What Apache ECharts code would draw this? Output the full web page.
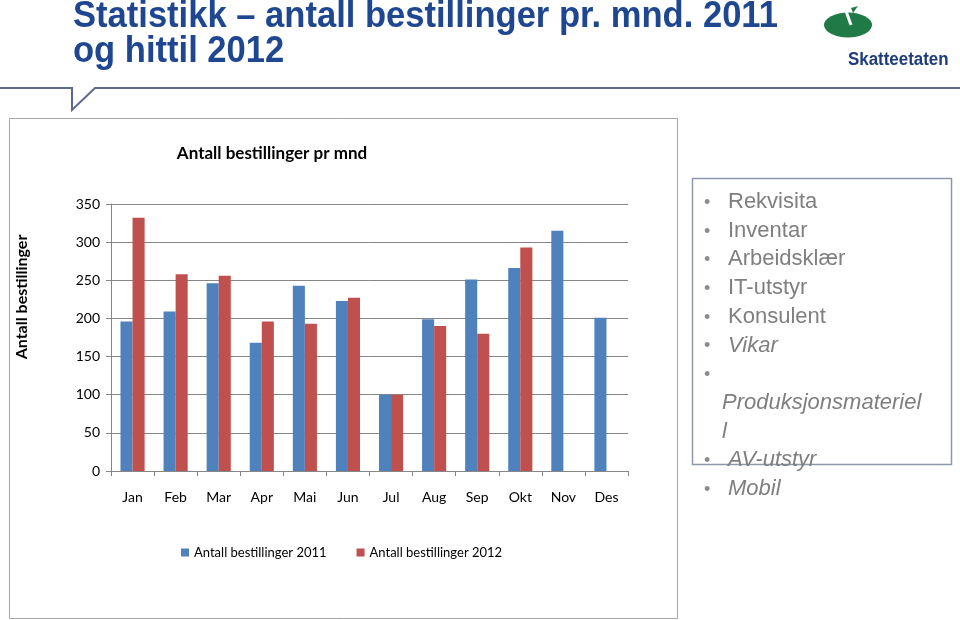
<!DOCTYPE html>
<html>
<head>
<meta charset="utf-8">
<script src="https://cdn.jsdelivr.net/npm/echarts@6/dist/echarts.min.js"></script>
<style>
  html, body { margin: 0; padding: 0; background: #fff; }
  #chart { width: 960px; height: 620px; }
</style>
</head>
<body>
<div id="chart"></div>
<script>
// data
var months = ['Jan', 'Feb', 'Mar', 'Apr', 'Mai', 'Jun', 'Jul', 'Aug', 'Sep', 'Okt', 'Nov', 'Des'];
var orders2011 = [196, 209, 246, 168, 243, 223, 100, 199, 251, 266, 315, 201];
var orders2012 = [332, 258, 256, 196, 193, 227, 100, 190, 180, 293, null, null];
var boxItems = ['Rekvisita', 'Inventar', 'Arbeidsklær', 'IT-utstyr', 'Konsulent', 'Vikar', '', 'Produksjonsmateriel', 'l', 'AV-utstyr', 'Mobil'];
var italicFrom = 5;

var chartFont = 'Lato, "Open Sans", sans-serif';
var gray = '#868686';

// tekstboks til høyre
var boxText = [];
boxItems.forEach(function (t, i) {
    var y = 202 + i * 28.7;
    var wrapped = (t === 'l');
    var first = (t === 'Produksjonsmateriel');
    if (!wrapped && !first) {
        boxText.push({
            type: 'text',
            style: { x: 704, y: y + 1, text: '•', fill: '#8c8c8c', font: '18px "Liberation Sans", Arial',
                     textVerticalAlign: 'middle' }
        });
    }
    if (t) {
        boxText.push({
            type: 'text',
            style: {
                x: (first || wrapped) ? 722 : 728, y: y,
                text: t, fill: '#7f7f7f',
                font: (i >= italicFrom ? 'italic ' : '') + '22px "Liberation Sans", Arial',
                textVerticalAlign: 'middle'
            }
        });
    }
});

var myChart = echarts.init(document.getElementById('chart'));
var option = {
    animation: false,
    textStyle: { fontFamily: chartFont },
    title: {
        text: 'Antall bestillinger pr mnd',
        left: 267, top: 140, textAlign: 'center',
        textStyle: { fontFamily: chartFont, fontWeight: 'bold', fontSize: 17, color: '#000' }
    },
    legend: {
        left: 176, top: 541,
        itemWidth: 8, itemHeight: 8, itemGap: 30,
        icon: 'rect',
        textStyle: { fontFamily: chartFont, fontSize: 13, color: '#000' },
        data: ['Antall bestillinger 2011', 'Antall bestillinger 2012']
    },
    grid: { left: 111, top: 204, width: 517, height: 267 },
    xAxis: {
        type: 'category',
        data: months,
        axisLine: { lineStyle: { color: gray } },
        axisTick: { show: true, length: 5, lineStyle: { color: gray } },
        axisLabel: { color: '#000', fontSize: 14, margin: 19 }
    },
    yAxis: {
        type: 'value',
        min: 0, max: 350, interval: 50,
        axisLine: { show: true, lineStyle: { color: gray } },
        axisTick: { show: true, length: 5, lineStyle: { color: gray } },
        axisLabel: { color: '#000', fontSize: 14, margin: 11 },
        splitLine: { lineStyle: { color: gray } }
    },
    series: [
        {
            name: 'Antall bestillinger 2011', type: 'bar', data: orders2011,
            barGap: '0%', barCategoryGap: '44%',
            itemStyle: { color: '#4f81bd' }
        },
        {
            name: 'Antall bestillinger 2012', type: 'bar', data: orders2012,
            itemStyle: { color: '#c0504d' }
        }
    ],
    graphic: [
        // overskrift
        {
            type: 'text', x: 73, y: -1, scaleX: 0.96,
            style: { text: 'Statistikk – antall bestillinger pr. mnd. 2011', fill: '#1f4690',
                     font: 'bold 36px "Liberation Sans", Arial' }
        },
        {
            type: 'text', x: 73, y: 34, scaleX: 0.96,
            style: { text: 'og hittil 2012', fill: '#1f4690',
                     font: 'bold 36px "Liberation Sans", Arial' }
        },
        {
            type: 'polyline',
            shape: { points: [[0, 88], [72, 88], [72, 110], [95, 88], [960, 88]] },
            style: { stroke: '#5b6a8e', lineWidth: 2, fill: null }
        },
        // logo
        {
            type: 'circle', x: 848, y: 25, scaleY: 0.52,
            shape: { cx: 0, cy: 0, r: 24 },
            style: { fill: '#1f7a45' }
        },
        {
            type: 'line',
            shape: { x1: 846, y1: 11, x2: 851, y2: 25 },
            style: { stroke: '#fff', lineWidth: 3 }
        },
        {
            type: 'polygon',
            shape: { points: [[851, 8], [858, 6], [853, 13]] },
            style: { fill: '#1f7a45' }
        },
        {
            type: 'text', x: 848, y: 51, scaleX: 0.94,
            style: { text: 'Skatteetaten', fill: '#1f3d7a', font: 'bold 18px "Liberation Sans", Arial' }
        },
        // y-akse tittel
        {
            type: 'text', x: 22, y: 297, rotation: Math.PI / 2,
            style: { text: 'Antall bestillinger', fill: '#000', font: 'bold 16px ' + chartFont,
                     textAlign: 'center', textVerticalAlign: 'middle' }
        },
        // diagramramme
        {
            type: 'rect',
            shape: { x: 9.5, y: 118.5, width: 668, height: 500 },
            style: { stroke: '#a6a6a6', lineWidth: 1, fill: null }
        },
        // tekstboks
        {
            type: 'rect',
            shape: { x: 692.5, y: 178.5, width: 259, height: 286 },
            style: { stroke: '#8d98ab', lineWidth: 1.5, fill: null }
        }
    ].concat(boxText)
};
myChart.setOption(option);
</script>
</body>
</html>
